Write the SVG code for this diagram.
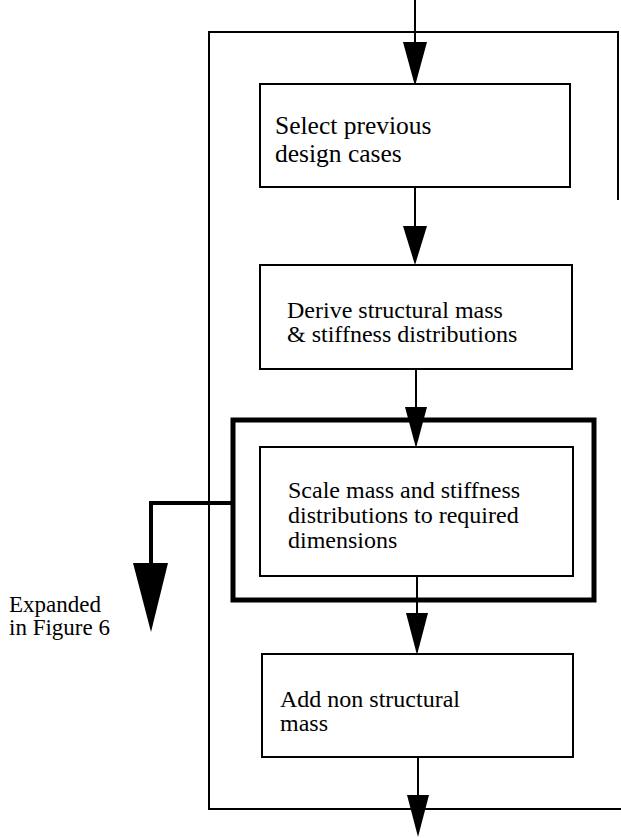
<svg xmlns="http://www.w3.org/2000/svg" width="621" height="838" viewBox="0 0 621 838">
  <style>
    .box { fill: #fff; stroke: #000; stroke-width: 2; }
    .frame { fill: none; stroke: #000; stroke-width: 2; }
    .thick { fill: none; stroke: #000; stroke-width: 5; }
    .shaft { fill: none; stroke: #000; stroke-width: 2; }
    .shaft-bold { fill: none; stroke: #000; stroke-width: 4; }
    .head { fill: #000; stroke: none; }
    text { font-family: "Liberation Serif", "Times New Roman", serif; fill: #000; }
  </style>
  <rect width="621" height="838" fill="#fff"/>

  <!-- outer process boundary -->
  <g id="outer-frame">
    <path class="frame" d="M618,200 L618,32 L209,32 L209,809 L621,809"/>
  </g>

  <!-- highlighted sub-process boundary -->
  <g id="expanded-frame">
    <rect class="thick" x="233" y="420" width="361" height="180"/>
  </g>

  <g id="connectors">
    <!-- entry -->
    <line class="shaft" x1="415" y1="0" x2="415" y2="50"/>
    <polygon class="head" points="403,42 427,42 415,86"/>
    <!-- select -> derive -->
    <line class="shaft" x1="415" y1="187" x2="415" y2="232"/>
    <polygon class="head" points="403,226 427,226 415,265"/>
    <!-- derive -> scale -->
    <line class="shaft" x1="416" y1="369" x2="416" y2="412"/>
    <polygon class="head" points="405,407 427,407 416,448"/>
    <!-- scale -> add -->
    <line class="shaft" x1="417" y1="576" x2="417" y2="618"/>
    <polygon class="head" points="406,613 428,613 417,655"/>
    <!-- exit -->
    <line class="shaft" x1="418" y1="757" x2="418" y2="800"/>
    <polygon class="head" points="407,795 429,795 418,837"/>
    <!-- branch to expansion -->
    <path class="shaft-bold" d="M233,503 L151,503 L151,568"/>
    <polygon class="head" points="133,563 168,563 151,632"/>
  </g>

  <g id="select">
    <rect class="box" x="260" y="84" width="310" height="103"/>
    <text x="275" y="134" font-size="25.5">Select previous</text>
    <text x="275" y="162" font-size="25.5">design cases</text>
  </g>

  <g id="derive">
    <rect class="box" x="260" y="265" width="312" height="104"/>
    <text x="287" y="318" font-size="24">Derive structural mass</text>
    <text x="287" y="342" font-size="24">&amp; stiffness distributions</text>
  </g>

  <g id="scale">
    <rect class="box" x="260" y="447" width="313" height="129"/>
    <text x="288" y="498" font-size="24">Scale mass and stiffness</text>
    <text x="288" y="523" font-size="24">distributions to required</text>
    <text x="288" y="548" font-size="24">dimensions</text>
  </g>

  <g id="add">
    <rect class="box" x="262" y="654" width="311" height="103"/>
    <text x="280" y="707" font-size="24">Add non structural</text>
    <text x="280" y="731" font-size="24">mass</text>
  </g>

  <g id="expanded-note">
    <text x="9" y="612" font-size="23">Expanded</text>
    <text x="9" y="635" font-size="23">in Figure 6</text>
  </g>
</svg>
